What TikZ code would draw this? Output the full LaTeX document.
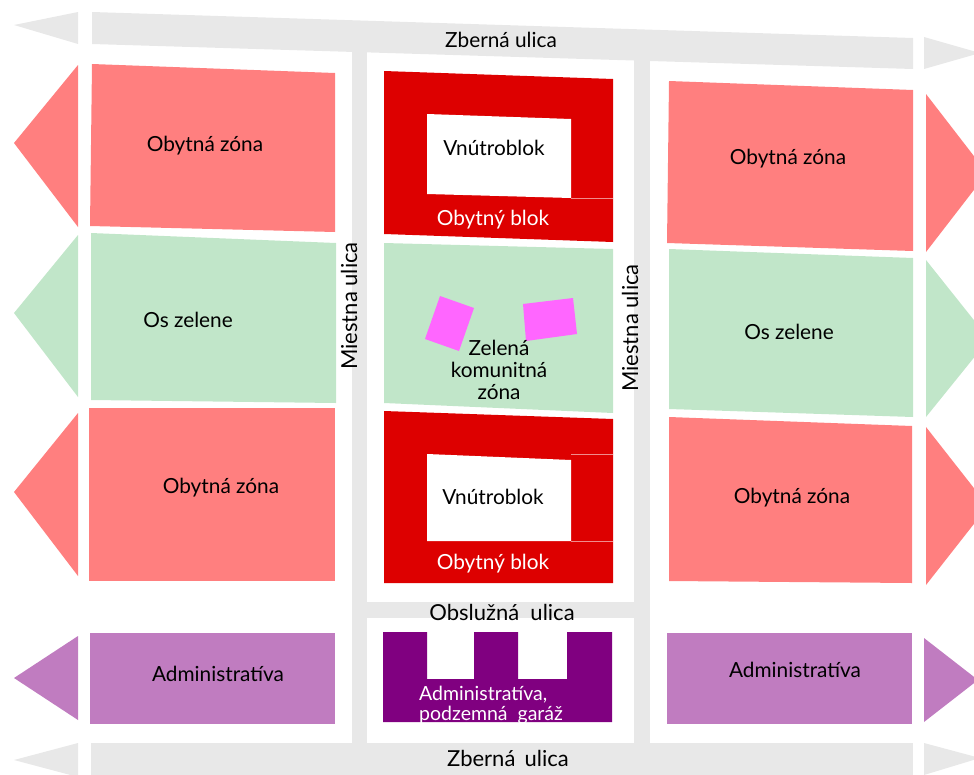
\documentclass[tikz,border=0pt]{standalone}
\usepackage{fontspec}
\setmainfont{Lato}
\definecolor{roadgray}{HTML}{E8E8E8}
\definecolor{salmon}{HTML}{FF7F7F}
\definecolor{mint}{HTML}{C1E6C9}
\definecolor{blockred}{HTML}{DD0000}
\definecolor{lilac}{HTML}{C07CC0}
\definecolor{plum}{HTML}{800080}
\definecolor{pinkish}{HTML}{FF66FF}
\begin{document}
\begin{tikzpicture}[x=1pt,y=-1pt,
  lbl/.style={font=\fontsize{20.8}{22}\selectfont, inner sep=0pt, text=black},
  biglbl/.style={lbl, font=\fontsize{22}{24}\selectfont},
  wlbl/.style={lbl, text=white},
  road/.style={fill=roadgray},
  res/.style={fill=salmon},
  green/.style={fill=mint},
  adm/.style={fill=lilac},
  seam/.style={draw=white!55!blockred, line width=0.5pt}]
\useasboundingbox (0,0) rectangle (974,774);
\clip (0,0) rectangle (974,774);

% ---- roads
\fill[road] (92,12) -- (913,38) -- (913,69) -- (92,44) -- cycle;
\fill[road] (78,12) -- (14,25) -- (78,44) -- cycle;
\fill[road] (924,37) -- (980,53) -- (924,69) -- cycle;
\fill[road] (91,743) rectangle (913,780);
\fill[road] (78,743) -- (14,760) -- (78,777) -- cycle;
\fill[road] (924,743) -- (980,758) -- (924,775) -- cycle;
\fill[road] (352,50) rectangle (367,743);
\fill[road] (634,58) rectangle (650,743);
\fill[road] (367,602) rectangle (634,618);

% ---- left column
\fill[res] (92,64) -- (335,73) -- (335,232) -- (90,226) -- cycle;
\fill[res] (78,65) -- (14,143) -- (78,227) -- cycle;
\fill[green] (91,233) -- (336,243) -- (336,403) -- (91,400) -- cycle;
\fill[green] (78,235) -- (14,313) -- (78,397) -- cycle;
\fill[res] (89,408) -- (335,408) -- (335,581) -- (89,581) -- cycle;
\fill[res] (78,413) -- (14,492) -- (78,576) -- cycle;
\fill[adm] (90,633) rectangle (335,724);
\fill[adm] (78,636) -- (14,678) -- (78,720) -- cycle;

% ---- right column
\fill[res] (669,81) -- (913,90) -- (913,251) -- (667,243) -- cycle;
\fill[res] (926,94) -- (987,173) -- (926,252) -- cycle;
\fill[green] (669,249) -- (913,258) -- (913,417) -- (669,409) -- cycle;
\fill[green] (926,260) -- (989,339) -- (926,417) -- cycle;
\fill[res] (669,417) -- (912,426) -- (912,583) -- (669,581) -- cycle;
\fill[res] (926,427) -- (988,506) -- (926,585) -- cycle;
\fill[adm] (667,633) rectangle (912,724);
\fill[adm] (924,638) -- (978,680) -- (924,722) -- cycle;

% ---- centre column
\fill[blockred] (384,71) -- (613,79) -- (613,242) -- (384,234) -- cycle;
\fill[white] (427,114) -- (571,119) -- (571,198) -- (427,194) -- cycle;
\draw[seam] (571,198) -- (613,198);
\fill[mint] (384,243) -- (613,249) -- (613,413) -- (384,403) -- cycle;
\fill[pinkish] (440,296) -- (474,308) -- (459,351) -- (425,339) -- cycle;
\fill[pinkish] (523,304) -- (573,298) -- (577,334) -- (526,341) -- cycle;
\fill[blockred] (384,411) -- (613,419) -- (613,583) -- (384,583) -- cycle;
\fill[white] (427,454) -- (571,460) -- (571,541) -- (427,541) -- cycle;
\draw[seam] (571,454) -- (613,454);
\draw[seam] (571,541) -- (613,541);
\fill[plum] (383,632) -- (427,632) -- (427,679) -- (474,679) -- (474,632)
  -- (518,632) -- (518,679) -- (567,679) -- (567,632) -- (612,632)
  -- (612,722) -- (383,722) -- cycle;

% ---- labels
\node[lbl] (ztop) at (501,40) {Zberná ulica};
\node[biglbl] (zbot) at (508,758) {Zberná\, ulica};
\node[biglbl, rotate=90] (mleft) at (349,306) {Miestna ulica};
\node[biglbl, rotate=90] (mright) at (630,328) {Miestna ulica};
\node[biglbl] (obsl) at (502,612) {Obslužná\ \ ulica};

\node[lbl] (oz1) at (205,146) {Obytná zóna};
\node[lbl] (os1) at (188,320) {Os zelene};
\node[lbl] (oz2) at (221,488) {Obytná zóna};
\node[lbl] (ad1) at (218,674) {Administratíva};

\node[lbl] (oz3) at (788,159) {Obytná zóna};
\node[lbl] (os2) at (789,332) {Os zelene};
\node[lbl] (oz4) at (792,498) {Obytná zóna};
\node[lbl] (ad2) at (795,670) {Administratíva};

\node[lbl] (vb1) at (494,148) {Vnútroblok};
\node[wlbl] (ob1) at (493,220) {Obytný blok};
\node[lbl, align=center] (zkz) at (499,370) {Zelená\\komunitná\\zóna};
\node[lbl] (vb2) at (493,497) {Vnútroblok};
\node[wlbl] (ob2) at (493,564) {Obytný blok};
\node[wlbl, font=\fontsize{19.5}{20}\selectfont, anchor=base west] (adg1) at (419,700) {Administratíva,};
\node[wlbl, font=\fontsize{19.5}{20}\selectfont, anchor=base west] (adg2) at (419,720) {podzemná\ \ garáž};
\end{tikzpicture}
\end{document}
